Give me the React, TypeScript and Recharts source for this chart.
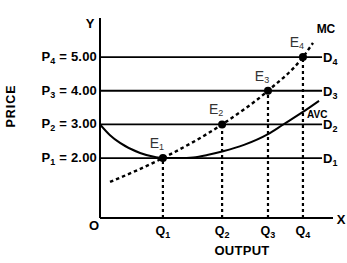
import { ComposedChart, Line, Scatter, XAxis, YAxis, ReferenceLine } from 'recharts';

// price levels P1..P4 and their equilibrium outputs Q1..Q4
const levels = ['1', '2', '3', '4'];
const prices = [2, 3, 4, 5];
const outputs = [27, 52.4, 72.1, 87.1];
const demandEnd = 95.3;

// marginal cost curve (dotted)
const mcOutput = [4.3, 27, 52.4, 72.1, 87.1, 91.4];
const mcCost = [1.29, 2, 3, 4, 5, 5.42];

// average variable cost curve
const avcOutput = [0, 4.3, 8.6, 17.2, 23.6, 27, 34.3, 40, 46, 52.8, 61.8, 72.1, 78.5, 87.1, 94];
const avcCost = [3, 2.68, 2.45, 2.15, 2.03, 2, 2, 2.02, 2.09, 2.2, 2.39, 2.71, 2.99, 3.37, 3.7];

const xDomain = [0, 100];
const yDomain = [0.22, 6.16];

const mcData = mcOutput.map((q, i) => ({ q, v: mcCost[i] }));
const avcData = avcOutput.map((q, i) => ({ q, v: avcCost[i] }));
const eqData = outputs.map((q, i) => ({ q, v: prices[i], n: levels[i] }));

const FONT = '"Liberation Sans", Arial, sans-serif';

const PriceTick = ({ x, y, payload }: any) => {
  const i = prices.indexOf(payload.value);
  return (
    <text x={x} y={y} dy={4} textAnchor="end" fontFamily={FONT} fontWeight="bold" fontSize={13} letterSpacing={0.2} fill="#000">
      <tspan>P</tspan>
      <tspan fontSize={9} dy={3}>{levels[i]}</tspan>
      <tspan dy={-3}> = {payload.value.toFixed(2)}</tspan>
    </text>
  );
};

const OutputTick = ({ x, y, payload }: any) => {
  const i = outputs.indexOf(payload.value);
  if (i < 0) {
    return (
      <text x={x - 6} y={y + 10} textAnchor="middle" fontFamily={FONT} fontWeight="bold" fontSize={13} fill="#000">O</text>
    );
  }
  return (
    <text x={x} y={y + 15} textAnchor="middle" fontFamily={FONT} fontWeight="bold" fontSize={12.5} fill="#000">
      <tspan>Q</tspan>
      <tspan fontSize={9} dy={3}>{levels[i]}</tspan>
    </text>
  );
};

const YLabels = ({ viewBox }: any) => {
  const { x, y } = viewBox;
  const px = x - 84;
  const py = y + 88;
  return (
    <g fontFamily={FONT} fontWeight="bold" fill="#000">
      <text x={x - 9} y={y + 10} textAnchor="middle" fontSize={13}>Y</text>
      <text x={px} y={py} textAnchor="middle" fontSize={12.5} letterSpacing={1} transform={`rotate(-90 ${px} ${py})`}>
        PRICE
      </text>
    </g>
  );
};

const XLabels = ({ viewBox }: any) => {
  const { x, y, width } = viewBox;
  return (
    <g fontFamily={FONT} fontWeight="bold" fill="#000">
      <text x={x + width + 8} y={y + 6} textAnchor="middle" fontSize={13}>X</text>
      <text x={x + 142} y={y + 37} textAnchor="middle" fontSize={13} letterSpacing={0.3}>OUTPUT</text>
    </g>
  );
};

const DemandLabel = ({ viewBox, n }: any) => (
  <text x={viewBox.x + viewBox.width + 1} y={viewBox.y + 5} fontFamily={FONT} fontWeight="bold" fontSize={13} fill="#000">
    <tspan>D</tspan>
    <tspan fontSize={9} dy={3}>{n}</tspan>
  </text>
);

const EqPoint = (props: any) => {
  const { cx, cy, payload } = props;
  return (
    <g>
      <circle cx={cx} cy={cy} r={4} fill="#000" />
      <text x={cx - 6} y={cy - 10} textAnchor="middle" fontFamily={FONT} fontSize={14} fill="#333">
        <tspan>E</tspan>
        <tspan fontSize={9} dy={2}>{payload.n}</tspan>
      </text>
    </g>
  );
};

const mcLabel = (p: any) =>
  p.index === mcData.length - 1 ? (
    <text x={p.x + 13} y={p.y - 10} textAnchor="middle" fontFamily={FONT} fontWeight="bold" fontSize={12} fill="#000">MC</text>
  ) : null;

const avcLabel = (p: any) =>
  p.index === avcData.length - 1 ? (
    <text x={p.x - 12} y={p.y + 17} fontFamily={FONT} fontWeight="bold" fontSize={10} fill="#000">AVC</text>
  ) : null;

export default function App() {
  return (
    <div style={{ position: 'absolute', left: 0, top: 0, background: '#fff' }}>
      <ComposedChart width={347} height={263} margin={{ top: 18, right: 14, bottom: 44, left: 99 }}>
        <XAxis
          type="number"
          dataKey="q"
          domain={xDomain}
          ticks={[0, ...outputs]}
          tick={<OutputTick />}
          tickLine={false}
          tickSize={0}
          height={1}
          axisLine={{ stroke: '#000', strokeWidth: 2 }}
          allowDataOverflow
          label={<XLabels />}
        />
        <YAxis
          type="number"
          dataKey="v"
          domain={yDomain}
          ticks={prices}
          tick={<PriceTick />}
          tickLine={false}
          tickSize={0}
          tickMargin={3}
          width={1}
          axisLine={{ stroke: '#000', strokeWidth: 2 }}
          allowDataOverflow
          label={<YLabels />}
        />
        {prices.map((p, i) => (
          <ReferenceLine
            key={`d${i}`}
            segment={[{ x: 0, y: p }, { x: demandEnd, y: p }]}
            stroke="#000"
            strokeWidth={1.8}
            label={<DemandLabel n={levels[i]} />}
          />
        ))}
        {outputs.map((q, i) => (
          <ReferenceLine
            key={`q${i}`}
            segment={[{ x: q, y: yDomain[0] }, { x: q, y: prices[i] }]}
            stroke="#000"
            strokeWidth={2.2}
            strokeDasharray="3 3"
          />
        ))}
        <Line
          data={avcData}
          dataKey="v"
          type="monotone"
          stroke="#000"
          strokeWidth={2}
          dot={false}
          activeDot={false}
          isAnimationActive={false}
          label={avcLabel}
        />
        <Line
          data={mcData}
          dataKey="v"
          type="monotone"
          stroke="#000"
          strokeWidth={2.4}
          strokeDasharray="3.5 3"
          dot={false}
          activeDot={false}
          isAnimationActive={false}
          label={mcLabel}
        />
        <Scatter data={eqData} dataKey="v" shape={<EqPoint />} isAnimationActive={false} />
      </ComposedChart>
    </div>
  );
}
